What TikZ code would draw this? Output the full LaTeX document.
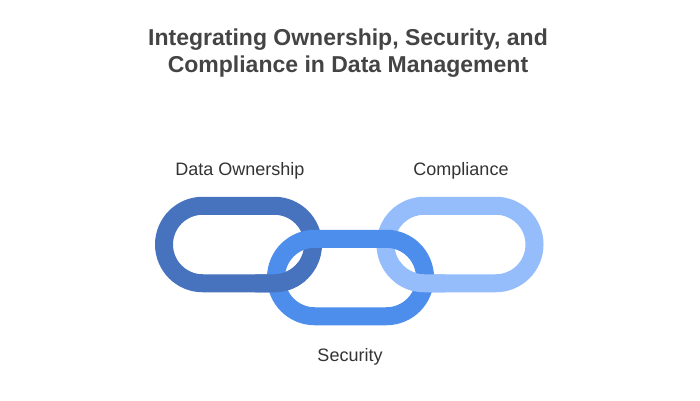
\documentclass[tikz,border=0pt]{standalone}
\usepackage{fontspec}
\setmainfont{Liberation Sans}
\definecolor{linkdark}{HTML}{4672BE}
\definecolor{linkmid}{HTML}{4D8DEB}
\definecolor{linklight}{HTML}{95BCFB}
\definecolor{titlegray}{HTML}{444444}
\definecolor{labelgray}{HTML}{333333}
\tikzset{
  link/.style={line width=18pt, rounded corners=38.75pt},
  titletext/.style={font=\fontsize{23}{27}\selectfont\bfseries, text=titlegray, anchor=base, inner sep=0pt},
  labeltext/.style={font=\fontsize{18}{21}\selectfont, text=labelgray, anchor=base, inner sep=0pt}
}
\begin{document}
\begin{tikzpicture}[x=1pt,y=-1pt]
\useasboundingbox (0,0) rectangle (700,400);
% links: centerline stadiums 149 x 77.5
\draw[link, linkdark] (164,205.75) rectangle (313,283.25);
\draw[link, linklight] (385.5,205.75) rectangle (534.5,283.25);
\draw[link, linkmid] (276,238.75) rectangle (425,316.25);
% bottom crossings: outer links over the middle link
\begin{scope}
\clip (255,262) rectangle (305,302);
\draw[link, linkdark] (164,205.75) rectangle (313,283.25);
\end{scope}
\begin{scope}
\clip (395,262) rectangle (445,302);
\draw[link, linklight] (385.5,205.75) rectangle (534.5,283.25);
\end{scope}
\node[titletext] (t1) at (348,45) {Integrating Ownership, Security, and};
\node[titletext] (t2) at (348,72) {Compliance in Data Management};
\node[labeltext] (l1) at (240,175) {Data Ownership};
\node[labeltext] (l2) at (461,175) {Compliance};
\node[labeltext] (l3) at (350,361) {Security};
\end{tikzpicture}
\end{document}
